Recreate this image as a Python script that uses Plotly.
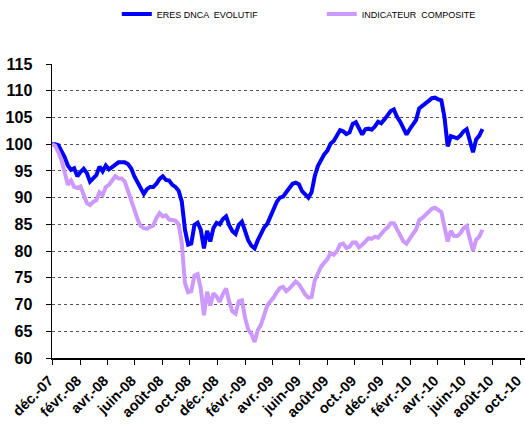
import pandas as pd
import plotly.graph_objects as go

dates = pd.date_range("2007-12-01", periods=137, freq="7D")

eres_dnca = [
    100, 100, 99.8, 98.7, 97.6, 96.0, 95.2, 95.5, 94.0, 94.8,
    95.4, 94.6, 93.0, 93.6, 94.2, 95.8, 94.9, 96.0, 95.3, 95.7,
    96.2, 96.6, 96.6, 96.6, 96.3, 95.5, 94.0, 93.0, 92.0, 90.7,
    91.6, 92.0, 92.0, 92.6, 93.5, 94.0, 93.3, 93.2, 92.4, 92.0,
    91.3, 89.3, 84.0, 81.2, 81.4, 84.9, 85.3, 84.0, 80.5, 83.8,
    81.8, 84.3, 85.3, 85.0, 86.0, 86.5, 84.8, 83.7, 83.2, 84.9,
    85.5, 83.5, 82.0, 81.0, 80.5, 82.0, 83.2, 84.4, 85.1, 86.5,
    87.7, 89.2, 90.0, 90.2, 91.0, 91.9, 92.6, 92.8, 92.5, 91.2,
    90.7, 90.0, 91.0, 94.0, 95.9, 97.2, 98.1, 98.8, 100.1, 100.6,
    101.5, 102.6, 102.4, 101.9, 102.2, 103.8, 104.1, 103.0, 101.8, 102.8,
    102.9, 102.7, 103.3, 104.2, 103.9, 104.6, 105.4, 106.2, 106.5, 105.1,
    104.2, 102.8, 101.8, 102.8, 103.6, 104.5, 106.7, 107.1, 107.5, 108.1,
    108.6, 108.7, 108.4, 108.2, 105.0, 99.6, 101.5, 101.3, 101.1, 101.6,
    102.4, 102.8, 100.4, 98.5, 100.9, 101.6, 102.8,
]

indicateur = [
    100, 99.7, 98.5, 97.0, 94.8, 92.4, 93.2, 92.0, 91.8, 92.1,
    90.6, 89.0, 88.6, 89.2, 89.5, 91.0, 90.5, 92.0, 92.4, 93.2,
    94.0, 93.6, 93.6, 93.0, 91.4, 89.6, 87.8, 86.0, 84.7, 84.3,
    84.2, 84.5, 84.8, 86.2, 87.1, 86.5, 86.7, 85.9, 85.8, 85.7,
    85.0, 81.5, 74.0, 72.3, 72.5, 75.4, 75.7, 73.0, 68.0, 72.4,
    69.8, 72.1, 71.5, 70.5, 72.0, 73.0, 70.5, 68.7, 68.3, 70.6,
    70.8, 67.5, 65.3, 64.5, 63.0, 65.2, 66.2, 68.2, 69.8, 70.6,
    71.3, 72.3, 73.1, 73.3, 72.5, 73.0, 73.8, 74.3, 73.8, 72.7,
    71.9, 71.3, 71.4, 74.5, 76.0, 77.1, 77.8, 78.5, 79.6, 79.3,
    80.0, 81.2, 81.4, 80.6, 80.8, 81.6, 81.6, 80.7, 81.2, 81.8,
    82.4, 82.3, 82.7, 82.5, 83.3, 83.9, 84.4, 85.2, 85.2, 84.0,
    82.7, 81.8, 81.4, 82.4, 83.2, 84.0, 85.8, 86.2, 86.7, 87.3,
    87.9, 88.1, 87.8, 87.3, 84.5, 81.8, 83.8, 82.8, 82.8, 83.3,
    84.3, 84.7, 82.3, 80.0, 82.1, 82.7, 84.0,
]

tick_dates = [
    "2007-12-01", "2008-02-01", "2008-04-01", "2008-06-01", "2008-08-01",
    "2008-10-01", "2008-12-01", "2009-02-01", "2009-04-01", "2009-06-01",
    "2009-08-01", "2009-10-01", "2009-12-01", "2010-02-01", "2010-04-01",
    "2010-06-01", "2010-08-01", "2010-10-01",
]
tick_labels = [
    "déc.-07", "févr.-08", "avr.-08", "juin-08", "août-08", "oct.-08",
    "déc.-08", "févr.-09", "avr.-09", "juin-09", "août-09", "oct.-09",
    "déc.-09", "févr.-10", "avr.-10", "juin-10", "août-10", "oct.-10",
]

fig = go.Figure()
fig.add_trace(go.Scatter(
    x=dates, y=eres_dnca, mode="lines", name="ERES DNCA  EVOLUTIF",
    line=dict(color="#0000FF", width=4),
))
fig.add_trace(go.Scatter(
    x=dates, y=indicateur, mode="lines", name="INDICATEUR  COMPOSITE",
    line=dict(color="#CC99FF", width=4),
))

fig.update_layout(
    width=525, height=432,
    margin=dict(l=52, r=0, t=64, b=74, autoexpand=False),
    paper_bgcolor="white", plot_bgcolor="white",
    font=dict(family="Liberation Sans, Arial, sans-serif", color="black"),
    showlegend=True,
    legend=dict(
        orientation="h", x=0.137, xanchor="left", y=1.17, yanchor="middle",
        font=dict(size=9, color="black"),
        entrywidth=160, entrywidthmode="pixels",
        bgcolor="rgba(0,0,0,0)", itemclick=False,
    ),
    xaxis=dict(
        type="date", automargin=False,
        range=["2007-12-01", "2010-10-12"],
        tickmode="array", tickvals=tick_dates, ticktext=tick_labels,
        tickangle=-45, ticklabeloverflow="allow",
        ticklabelshift=-3, ticklabelstandoff=2,
        tickfont=dict(size=14.5, family="Liberation Sans, Arial, sans-serif", weight="bold"),
        ticks="outside", ticklen=5, tickcolor="black", tickwidth=1,
        showline=True, linecolor="black", linewidth=1.5,
        showgrid=False, zeroline=False,
    ),
    yaxis=dict(
        automargin=False,
        range=[60, 115], tickmode="linear", tick0=60, dtick=5,
        tickfont=dict(size=16, family="Liberation Sans, Arial, sans-serif", weight="bold"),
        ticks="outside", ticklen=5, tickcolor="black", tickwidth=1,
        ticklabelstandoff=10,
        showline=True, linecolor="black", linewidth=1.5,
        showgrid=True, gridcolor="#555555", gridwidth=1, griddash="dot",
        zeroline=False,
    ),
)

fig.write_html(
    "out.html",
    config={"displayModeBar": False, "staticPlot": True},
    post_script="document.body.style.margin='0';",
)
